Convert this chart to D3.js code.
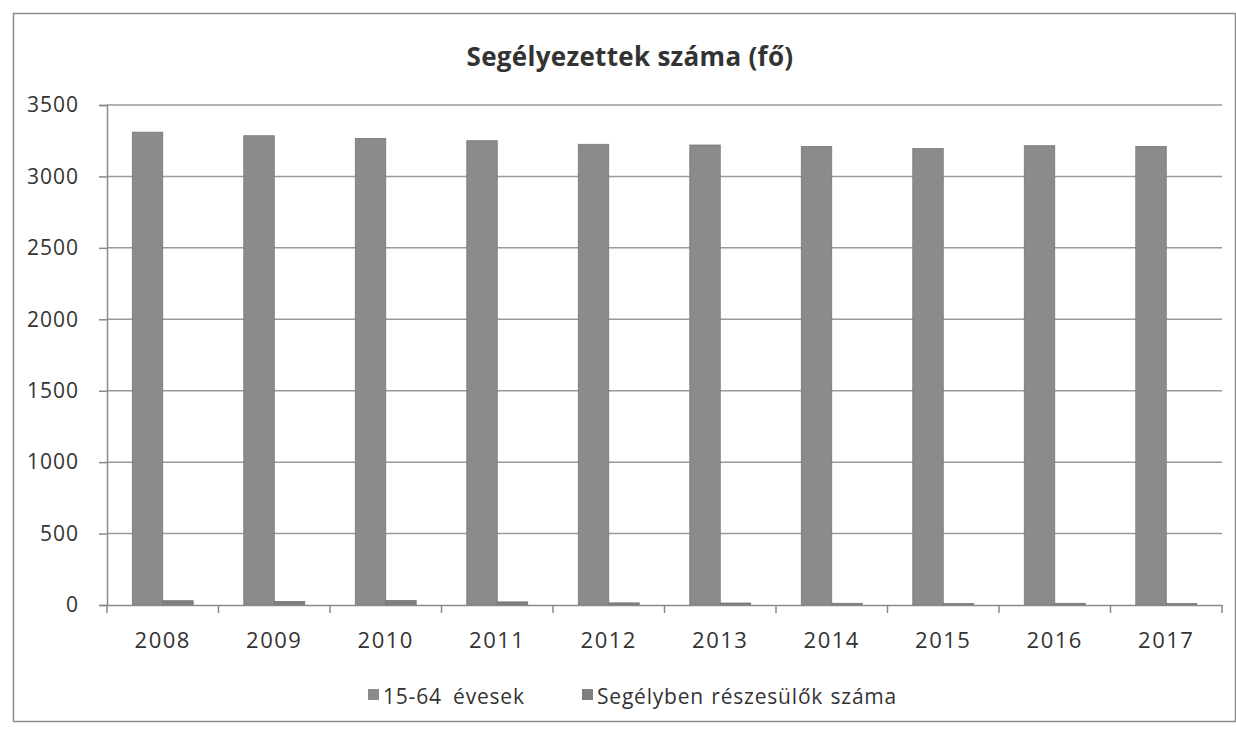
<!DOCTYPE html>
<html>
<head>
<meta charset="utf-8">
<script src="https://cdn.jsdelivr.net/npm/d3@7"></script>
<style>
  body { margin: 0; background: #fff; }
  text { font-family: "Open Sans", "Liberation Sans", sans-serif; fill: #333; }
</style>
</head>
<body>
<div id="chart"></div>
<script>
// data
var years = ["2008", "2009", "2010", "2011", "2012", "2013", "2014", "2015", "2016", "2017"];
var seriesNames = ["15-64 évesek", "Segélyben részesülők száma"];
var age1564 = [3310, 3285, 3265, 3250, 3225, 3220, 3210, 3195, 3215, 3210];
var aided = [30, 25, 32, 22, 15, 14, 12, 10, 12, 10];
var yTicks = [0, 500, 1000, 1500, 2000, 2500, 3000, 3500];

var svgWidth = 1236;
var svgHeight = 735;

var margin = { top: 105, right: 14, bottom: 130, left: 107 };
var width = svgWidth - margin.left - margin.right;
var height = svgHeight - margin.top - margin.bottom;

var svg = d3.select("#chart")
  .append("svg")
  .attr("width", svgWidth)
  .attr("height", svgHeight);

// outer frame of the chart
svg.append("rect")
  .attr("x", 13.5)
  .attr("y", 13.5)
  .attr("width", 1222)
  .attr("height", 708)
  .attr("fill", "none")
  .attr("stroke", "#8c8c8c")
  .attr("stroke-width", 1.5);

var chartGroup = svg.append("g")
  .attr("transform", `translate(${margin.left}, ${margin.top})`);

var xScale = d3.scaleBand()
  .domain(years)
  .range([0, width])
  .paddingInner(0)
  .paddingOuter(0);

var xSeries = d3.scaleBand()
  .domain(seriesNames)
  .range([0, xScale.bandwidth()])
  .paddingInner(0)
  .paddingOuter(0.83);

var yScale = d3.scaleLinear()
  .domain([0, 3500])
  .range([height, 0]);

// gridlines
chartGroup.selectAll("line.grid")
  .data(yTicks.filter(d => d > 0))
  .enter()
  .append("line")
  .classed("grid", true)
  .attr("x1", 0)
  .attr("x2", width)
  .attr("y1", d => yScale(d))
  .attr("y2", d => yScale(d))
  .attr("stroke", "#9a9a9a")
  .attr("stroke-width", 1.5);

// y axis
var leftAxis = d3.axisLeft(yScale)
  .tickValues(yTicks)
  .tickFormat(d3.format("d"))
  .tickSize(8)
  .tickPadding(20);

var yAxisG = chartGroup.append("g")
  .call(leftAxis);
yAxisG.select(".domain").attr("stroke", "#8a8a8a").attr("stroke-width", 1.5);
yAxisG.selectAll(".tick line").attr("stroke", "#8a8a8a").attr("stroke-width", 1.5);
yAxisG.selectAll("text")
  .style("font-size", "21px")
  .style("letter-spacing", "1px")
  .attr("fill", "#333");

// bars
var data = years.map(function(y, i) {
  return { year: y, values: [age1564[i], aided[i]] };
});

var groups = chartGroup.selectAll("g.year")
  .data(data)
  .enter()
  .append("g")
  .classed("year", true)
  .attr("transform", d => `translate(${xScale(d.year)}, 0)`);

groups.selectAll("rect")
  .data(d => d.values.map((v, j) => ({ name: seriesNames[j], value: v })))
  .enter()
  .append("rect")
  .attr("x", d => xSeries(d.name))
  .attr("y", d => yScale(d.value))
  .attr("width", xSeries.bandwidth())
  .attr("height", d => height - yScale(d.value))
  .attr("fill", (d, j) => j === 0 ? "#8b8b8b" : "#7f7f7f")
  .attr("stroke", "#777")
  .attr("stroke-width", 0.8);

// x axis
var bottomAxis = d3.axisBottom(xScale).tickSize(0).tickPadding(27);
var xAxisG = chartGroup.append("g")
  .attr("transform", `translate(0, ${height})`)
  .call(bottomAxis);
xAxisG.select(".domain").attr("stroke", "#8a8a8a").attr("stroke-width", 1.5);
xAxisG.selectAll("text")
  .style("font-size", "22px")
  .style("letter-spacing", "1.5px")
  .attr("fill", "#333");

// category boundary tick marks
chartGroup.selectAll("line.xtick")
  .data(years.concat(["end"]))
  .enter()
  .append("line")
  .classed("xtick", true)
  .attr("x1", (d, i) => i * xScale.step())
  .attr("x2", (d, i) => i * xScale.step())
  .attr("y1", height)
  .attr("y2", height + 8)
  .attr("stroke", "#8a8a8a")
  .attr("stroke-width", 1.5);

// title
svg.append("text")
  .attr("x", 630)
  .attr("y", 66)
  .attr("text-anchor", "middle")
  .style("font-size", "26px")
  .style("font-weight", "bold")
  .style("letter-spacing", "0.3px")
  .text("Segélyezettek száma (fő)");

// legend
var legendX = [368, 582];
var legend = svg.selectAll("g.legend")
  .data(seriesNames)
  .enter()
  .append("g")
  .classed("legend", true)
  .attr("transform", (d, i) => `translate(${legendX[i]}, 689)`);

legend.append("rect")
  .attr("width", 11)
  .attr("height", 11)
  .attr("fill", (d, i) => i === 0 ? "#8b8b8b" : "#7f7f7f");

legend.append("text")
  .attr("x", 15)
  .attr("y", 15)
  .style("font-size", "21px")
  .style("letter-spacing", "0.8px")
  .style("word-spacing", (d, i) => i === 0 ? "5px" : "1px")
  .text(d => d);
</script>
</body>
</html>
